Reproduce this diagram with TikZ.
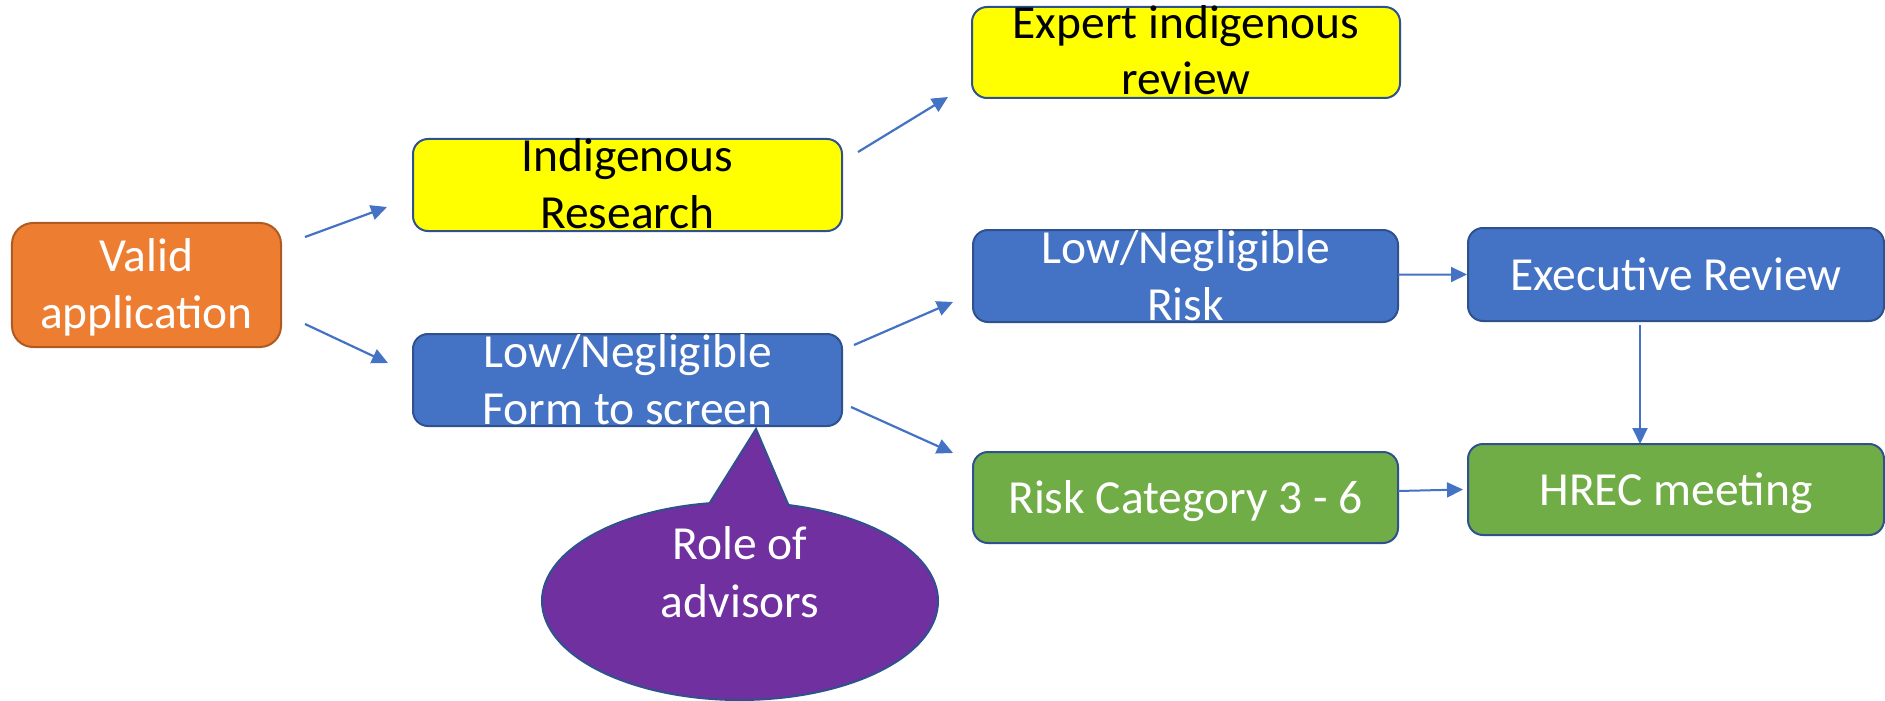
\documentclass[tikz,border=0pt]{standalone}
\usepackage{fontspec}
\setmainfont{Carlito}
\usetikzlibrary{arrows.meta,calc,shapes.callouts,shapes.geometric}
\definecolor{bfill}{HTML}{4472C4}
\definecolor{bline}{HTML}{2F528F}
\definecolor{gfill}{HTML}{70AD47}
\definecolor{yfill}{HTML}{FFFF00}
\definecolor{ofill}{HTML}{ED7D31}
\definecolor{oline}{HTML}{AE5A21}
\definecolor{pfill}{HTML}{7030A0}
\definecolor{arr}{HTML}{4472C4}
\newcommand\oneline[2]{\raisebox{#1}[0pt][0pt]{#2}}
\newcommand\twolines[3]{\raisebox{#1}[0pt][0pt]{\begin{tabular}[b]{@{}c@{}}#2\\#3\end{tabular}}}
\begin{document}
\begin{tikzpicture}[x=1bp,y=-1bp,
  box/.style={rectangle, rounded corners=15bp, draw=bline, line width=2bp,
    inner sep=0pt, outer sep=0pt,
    font=\fontsize{47.5bp}{56.5bp}\selectfont},
  bluebox/.style={box, fill=bfill, text=white},
  greenbox/.style={box, fill=gfill, text=white},
  yellowbox/.style={box, fill=yfill, text=black},
  orangebox/.style={box, rounded corners=21bp, fill=ofill, draw=oline, text=white},
  conn/.style={draw=arr, line width=2.2bp, -{Triangle[length=16bp,width=15bp]}}
]
\fill[white] (0,0) rectangle (1885,701);
\useasboundingbox (0,0) rectangle (1885,701);

\node[orangebox, minimum width=269bp, minimum height=124bp] (valid) at (146.5,285)
  {\twolines{-43bp}{Valid}{application}};
\node[yellowbox, minimum width=429bp, minimum height=92bp] (indig) at (627.5,185)
  {\twolines{-43bp}{Indigenous}{Research}};
\node[bluebox, minimum width=429bp, minimum height=92bp] (lowform) at (627.5,380)
  {\twolines{-44bp}{Low/Negligible}{Form to screen}};
\node[yellowbox, minimum width=428bp, minimum height=91bp] (expert) at (1186,52.5)
  {\twolines{-42.5bp}{Expert indigenous}{review}};
\node[bluebox, minimum width=425bp, minimum height=92bp] (lowrisk) at (1185.5,276)
  {\twolines{-44bp}{Low/Negligible}{Risk}};
\node[bluebox, minimum width=416bp, minimum height=93bp] (exec) at (1676,274.5)
  {\oneline{-15.5bp}{Executive Review}};
\node[greenbox, minimum width=425bp, minimum height=91bp] (riskcat) at (1185.5,497.5)
  {\oneline{-15.5bp}{Risk Category 3 - 6}};
\node[greenbox, minimum width=416bp, minimum height=91bp] (hrec) at (1676,489.5)
  {\oneline{-15.5bp}{HREC meeting}};

\node[ellipse callout, callout absolute pointer={($(lowform.south)+(128.5,3)$)},
  callout pointer arc=23, fill=pfill, draw=bline, line width=2bp, text=white,
  inner sep=0pt, minimum width=396bp, minimum height=198bp,
  font=\fontsize{47.5bp}{58bp}\selectfont] (advisors) at (740,601)
  {\twolines{-16bp}{Role of}{advisors}};

\draw[conn] ($(valid.east)+(24,-48)$) -- ($(indig.west)+(-26,22)$);
\draw[conn] ($(valid.east)+(24,39)$) -- ($(lowform.west)+(-25,-17)$);
\draw[conn] ($(indig.east)+(16,-33)$) -- ($(expert.west)+(-24,44.5)$);
\draw[conn] ($(lowform.east)+(12,-35)$) -- ($(lowrisk.west)+(-20,26)$);
\draw[conn] ($(lowform.east)+(9,27)$) -- ($(riskcat.west)+(-20,-44.5)$);
\draw[conn, line width=2bp] ($(lowrisk.east)+(0,-1.5)$) -- ($(exec.west)+(-1,0)$);
\draw[conn, line width=2bp] ($(exec.south)+(-36,4)$) -- ($(hrec.north)+(-36,0)$);
\draw[conn, line width=2bp] ($(riskcat.east)+(0,-6.5)$) -- ($(hrec.west)+(-5,0)$);
\end{tikzpicture}
\end{document}
